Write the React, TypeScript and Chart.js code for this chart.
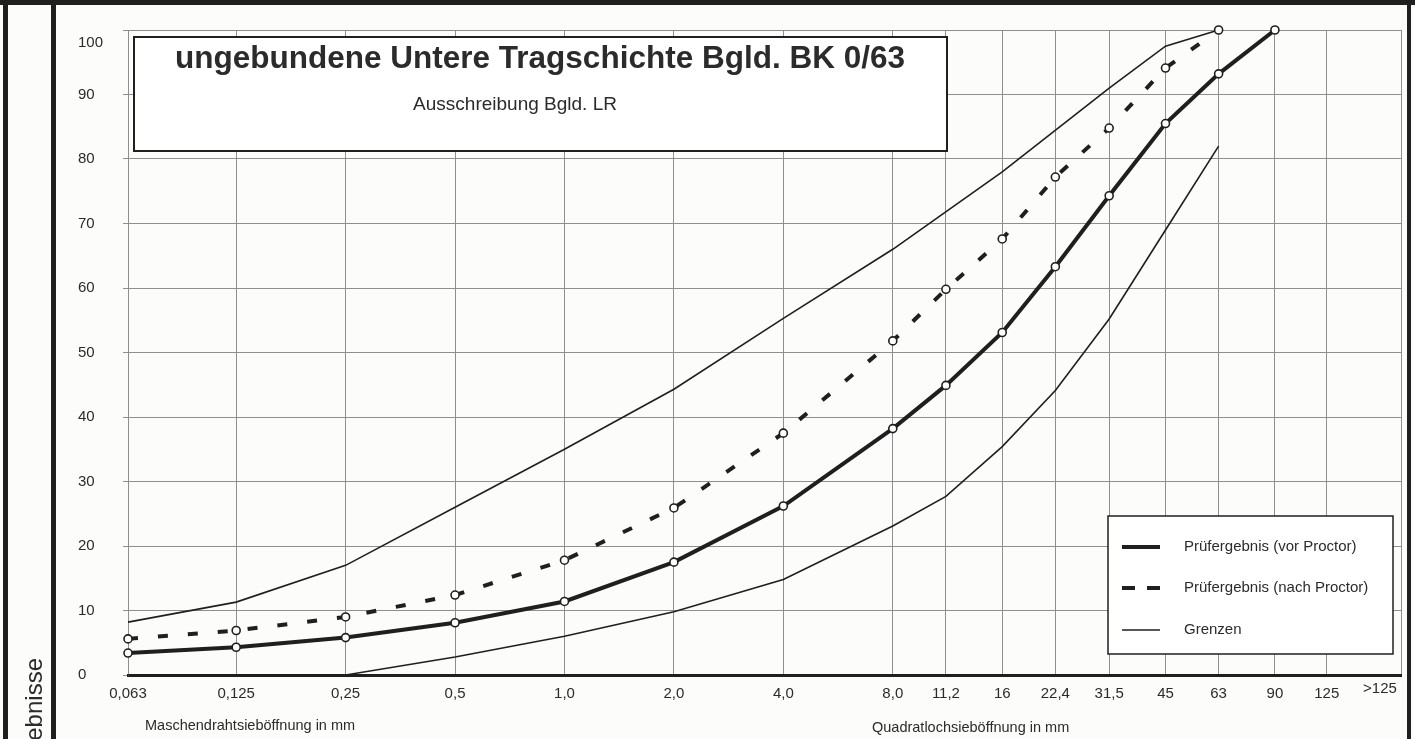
import React, { useEffect, useRef } from 'react';
import { Chart, registerables } from 'chart.js';

Chart.register(...registerables);

// ---- data ----
const sieveLabels = ['0,063', '0,125', '0,25', '0,5', '1,0', '2,0', '4,0', '8,0', '11,2', '16', '22,4', '31,5', '45', '63', '90', '125', '>125'];
const sieveSizes = [0.063, 0.125, 0.25, 0.5, 1, 2, 4, 8, 11.2, 16, 22.4, 31.5, 45, 63, 90, 125, 175];
const axisMinSize = 0.063;
const axisMaxSize = 200;
const overLabelSize = 175;

const vorProctor = [3.4, 4.3, 5.8, 8.1, 11.4, 17.5, 26.2, 38.2, 44.9, 53.1, 63.3, 74.3, 85.5, 93.2, 100, null, null];
const nachProctor = [5.6, 6.9, 9.0, 12.4, 17.8, 25.9, 37.5, 51.8, 59.8, 67.6, 77.2, 84.8, 94.1, 100, null, null, null];
const grenzeOben = [8.2, 11.3, 17.0, 26.0, 35.0, 44.3, 55.3, 66.0, null, 78.0, null, 91.0, 97.5, 100, null, null, null];
const grenzeUnten = [0, 0, 0, 2.8, 6.0, 9.8, 14.8, 23.1, 27.7, 35.4, 44.1, 55.2, 69.0, 82.0, null, null, null];

const yMin = 0;
const yMax = 100;
const yStep = 10;

const titleText = 'ungebundene Untere Tragschichte Bgld. BK 0/63';
const subtitleText = 'Ausschreibung Bgld. LR';
const xTitleLeft = 'Maschendrahtsieböffnung in mm';
const xTitleRight = 'Quadratlochsieböffnung in mm';
const yTitle = 'Prüfergebnisse';
const legendLabels = ['Prüfergebnis (vor Proctor)', 'Prüfergebnis (nach Proctor)', 'Grenzen'];

const FONT = "'Liberation Sans', Arial, sans-serif";
const INK = '#1f1f1f';
const TEXT = '#2b2b2b';
const GRID = '#8f8f8f';

function toPoints(values: (number | null)[]) {
  const pts: { x: number; y: number }[] = [];
  values.forEach((v, i) => {
    if (v !== null) pts.push({ x: sieveSizes[i], y: v });
  });
  return pts;
}

const paperPlugin = {
  id: 'paper',
  beforeDraw(chart: any) {
    const { ctx, width, height } = chart;
    ctx.save();
    ctx.fillStyle = '#fcfcfb';
    ctx.fillRect(0, 0, width, height);
    ctx.restore();
  },
  afterDraw(chart: any) {
    const { ctx, height } = chart;
    ctx.save();
    // outer frame
    ctx.fillStyle = INK;
    ctx.fillRect(0, 0, 1415, 5);
    ctx.fillRect(3, 0, 5, height);
    ctx.fillRect(51, 0, 5, height);
    ctx.fillRect(1407, 0, 4, height);

    // rotated y title
    ctx.save();
    ctx.translate(42, 658);
    ctx.rotate(-Math.PI / 2);
    ctx.fillStyle = TEXT;
    ctx.font = `24px ${FONT}`;
    ctx.textAlign = 'right';
    ctx.textBaseline = 'alphabetic';
    ctx.fillText(yTitle, 0, 0);
    ctx.restore();

    // title box
    ctx.fillStyle = '#ffffff';
    ctx.fillRect(134, 37, 813, 114);
    ctx.strokeStyle = INK;
    ctx.lineWidth = 2;
    ctx.strokeRect(134, 37, 813, 114);
    ctx.fillStyle = TEXT;
    ctx.textAlign = 'center';
    ctx.textBaseline = 'alphabetic';
    ctx.font = `bold 31.5px ${FONT}`;
    ctx.fillText(titleText, 540, 68);
    ctx.font = `19px ${FONT}`;
    ctx.fillText(subtitleText, 515, 110);

    // x axis titles
    ctx.textAlign = 'left';
    ctx.textBaseline = 'middle';
    ctx.font = `14.5px ${FONT}`;
    ctx.fillText(xTitleLeft, 145, 726);
    ctx.fillText(xTitleRight, 872, 728);

    // legend
    const lx = 1108, ly = 516, lw = 285, lh = 138;
    ctx.fillStyle = '#ffffff';
    ctx.fillRect(lx, ly, lw, lh);
    ctx.strokeStyle = INK;
    ctx.lineWidth = 1.5;
    ctx.strokeRect(lx, ly, lw, lh);
    const rows = [547, 588, 630];
    const dsIdx = [0, 1, 2];
    rows.forEach((ry, i) => {
      const ds = chart.data.datasets[dsIdx[i]];
      ctx.save();
      ctx.strokeStyle = ds.borderColor;
      ctx.lineWidth = ds.borderWidth;
      ctx.setLineDash(i === 1 ? [13, 12] : []);
      ctx.beginPath();
      ctx.moveTo(1122, ry);
      ctx.lineTo(1160, ry);
      ctx.stroke();
      ctx.restore();
      ctx.fillStyle = TEXT;
      ctx.font = `15px ${FONT}`;
      ctx.textAlign = 'left';
      ctx.textBaseline = 'middle';
      ctx.fillText(legendLabels[i], 1184, ry);
    });
    ctx.restore();
  },
};

export default function App() {
  const canvasRef = useRef<HTMLCanvasElement | null>(null);

  useEffect(() => {
    document.body.style.margin = '0';
    const canvas = canvasRef.current;
    if (!canvas) return;
    const yTickValues: number[] = [];
    for (let v = yMin; v <= yMax; v += yStep) yTickValues.push(v);

    const chart = new Chart(canvas, {
      type: 'line',
      data: {
        datasets: [
          {
            label: legendLabels[0],
            data: toPoints(vorProctor),
            borderColor: INK,
            borderWidth: 4,
            pointRadius: 4,
            pointBackgroundColor: '#ffffff',
            pointBorderColor: INK,
            pointBorderWidth: 1.6,
            tension: 0,
            clip: false,
          },
          {
            label: legendLabels[1],
            data: toPoints(nachProctor),
            borderColor: INK,
            borderWidth: 4,
            borderDash: [10, 20],
            pointRadius: 4,
            pointBackgroundColor: '#ffffff',
            pointBorderColor: INK,
            pointBorderWidth: 1.6,
            tension: 0,
            clip: false,
          },
          {
            label: legendLabels[2],
            data: toPoints(grenzeOben),
            borderColor: INK,
            borderWidth: 1.6,
            pointRadius: 0,
            tension: 0,
            clip: false,
          },
          {
            label: legendLabels[2],
            data: toPoints(grenzeUnten),
            borderColor: INK,
            borderWidth: 1.6,
            pointRadius: 0,
            tension: 0,
            clip: false,
          },
        ],
      } as any,
      options: {
        responsive: false,
        animation: false,
        events: [],
        layout: { padding: { left: 78, right: 14, top: 30, bottom: 0 } },
        plugins: {
          legend: { display: false },
          tooltip: { enabled: false },
          title: { display: false },
        },
        scales: {
          x: {
            type: 'logarithmic',
            min: axisMinSize,
            max: axisMaxSize,
            bounds: 'data',
            afterBuildTicks: (scale: any) => {
              const t = sieveSizes.map((v) => ({ value: v }));
              t.push({ value: axisMaxSize });
              scale.ticks = t;
            },
            afterFit: (scale: any) => {
              scale.height = 64;
            },
            ticks: {
              autoSkip: false,
              maxRotation: 0,
              minRotation: 0,
              padding: 10,
              color: TEXT,
              font: (c: any) =>
                c.tick && c.tick.value === overLabelSize
                  ? { family: FONT, size: 15, lineHeight: 0.55 }
                  : { family: FONT, size: 15, lineHeight: 1.2 },
              callback: (_v: any, i: number) => (i < sieveLabels.length ? sieveLabels[i] : ''),
            },
            grid: {
              drawTicks: false,
              color: (c: any) => (c.tick && c.tick.value === overLabelSize ? 'rgba(0,0,0,0)' : GRID),
              lineWidth: 1,
            },
            border: { display: true, color: INK, width: 3 },
          },
          y: {
            type: 'linear',
            min: yMin,
            max: yMax,
            afterBuildTicks: (scale: any) => {
              scale.ticks = yTickValues.map((v) => ({ value: v }));
            },
            afterFit: (scale: any) => {
              scale.width = 50;
            },
            ticks: {
              crossAlign: 'far',
              color: TEXT,
              font: (c: any) =>
                c.tick && c.tick.value === yMax
                  ? { family: FONT, size: 15, lineHeight: 1.7 }
                  : { family: FONT, size: 15, lineHeight: 1.2 },
              callback: (v: any) => (v === yMax ? ['', String(v)] : String(v)),
            },
            grid: {
              drawTicks: true,
              tickLength: 5,
              color: GRID,
              lineWidth: 1,
            },
            border: { display: true, color: GRID, width: 1 },
          },
        },
      } as any,
      plugins: [paperPlugin],
    });
    return () => chart.destroy();
  }, []);

  return (
    <div style={{ width: 1415, height: 739, position: 'relative' }}>
      <canvas ref={canvasRef} width={1415} height={739} style={{ display: 'block' }} />
    </div>
  );
}
